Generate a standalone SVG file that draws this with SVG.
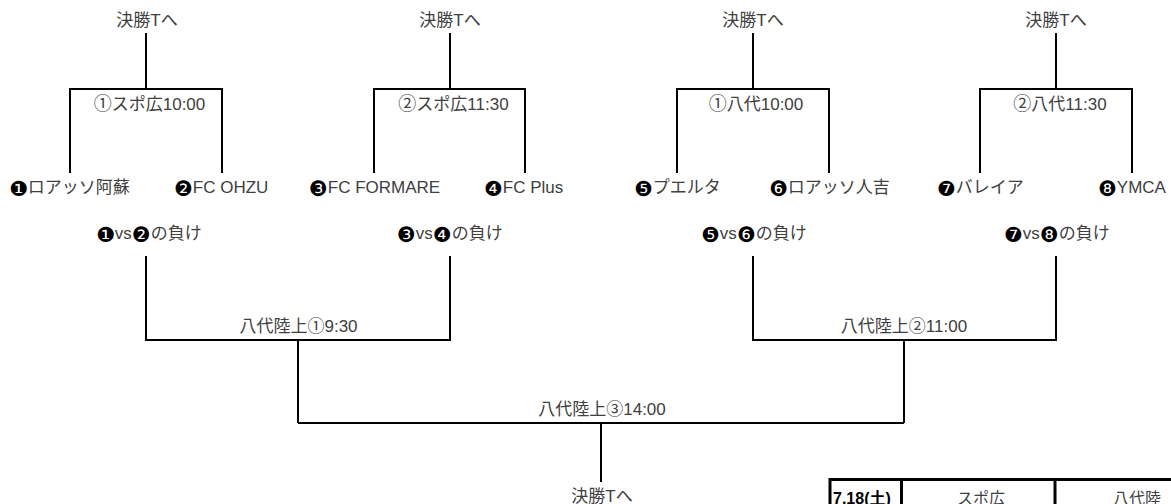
<svg xmlns="http://www.w3.org/2000/svg" width="1171" height="504" viewBox="0 0 1171 504">
<style>
  .t { font-family: "Liberation Sans", "Noto Sans CJK JP", sans-serif; font-size: 17px; fill: #404040; }
  .c { text-anchor: middle; }
  .n { font-family: "Noto Sans CJK JP", sans-serif; font-size: 18px; }
  .d { font-family: "DejaVu Sans", "Noto Sans CJK JP", sans-serif; font-size: 21px; fill: #000; baseline-shift: -3px; }
  .ln { stroke: #000; stroke-width: 2; fill: none; }
  .tb { stroke: #000; stroke-width: 3; fill: none; }
  .hd { font-family: "Liberation Sans", "Noto Sans CJK JP", sans-serif; font-size: 16px; font-weight: bold; fill: #000; }
  .tc { font-family: "Liberation Sans", "Noto Sans CJK JP", sans-serif; font-size: 16px; fill: #404040; }
</style>
<rect width="1171" height="504" fill="#fff"/>
<g id="connectors">
  <path class="ln" d="M146 33V89M70 173V89H222V173"/>
  <path class="ln" d="M450 33V89M374 173V89H525V173"/>
  <path class="ln" d="M753 33V89M677 173V89H829V173"/>
  <path class="ln" d="M1056 33V89M980 173V89H1132V173"/>
  <path class="ln" d="M146 256V340H450V256M298 340V423"/>
  <path class="ln" d="M753 256V340H1056V256M904 340V423"/>
  <path class="ln" d="M298 423H904M601 423V482"/>
</g>
<g id="final-1"><text class="t c" x="147" y="26">決勝Tへ</text></g>
<g id="final-2"><text class="t c" x="450" y="26">決勝Tへ</text></g>
<g id="final-3"><text class="t c" x="753" y="26">決勝Tへ</text></g>
<g id="final-4"><text class="t c" x="1056" y="26">決勝Tへ</text></g>
<g id="match-1"><text class="t c" x="149.5" y="110"><tspan class="n">①</tspan>スポ広10:00</text></g>
<g id="match-2"><text class="t c" x="453.5" y="110"><tspan class="n">②</tspan>スポ広11:30</text></g>
<g id="match-3"><text class="t c" x="756" y="110"><tspan class="n">①</tspan>八代10:00</text></g>
<g id="match-4"><text class="t c" x="1060" y="110"><tspan class="n">②</tspan>八代11:30</text></g>
<g id="team-1"><text class="t" x="9" y="193"><tspan class="d">❶</tspan>ロアッソ阿蘇</text></g>
<g id="team-2"><text class="t" x="174" y="193"><tspan class="d">❷</tspan>FC OHZU</text></g>
<g id="team-3"><text class="t" x="309" y="193"><tspan class="d">❸</tspan>FC FORMARE</text></g>
<g id="team-4"><text class="t" x="484" y="193"><tspan class="d">❹</tspan>FC Plus</text></g>
<g id="team-5"><text class="t" x="634" y="193"><tspan class="d">❺</tspan>プエルタ</text></g>
<g id="team-6"><text class="t" x="769" y="193"><tspan class="d">❻</tspan>ロアッソ人吉</text></g>
<g id="team-7"><text class="t" x="937" y="193"><tspan class="d">❼</tspan>バレイア</text></g>
<g id="team-8"><text class="t" x="1098" y="193"><tspan class="d">❽</tspan>YMCA</text></g>
<g id="loser-12"><text class="t" x="96" y="239"><tspan class="d">❶</tspan>vs<tspan class="d">❷</tspan>の負け</text></g>
<g id="loser-34"><text class="t" x="397" y="239"><tspan class="d">❸</tspan>vs<tspan class="d">❹</tspan>の負け</text></g>
<g id="loser-56"><text class="t" x="701" y="239"><tspan class="d">❺</tspan>vs<tspan class="d">❻</tspan>の負け</text></g>
<g id="loser-78"><text class="t" x="1004" y="239"><tspan class="d">❼</tspan>vs<tspan class="d">❽</tspan>の負け</text></g>
<g id="semi-1"><text class="t c" x="298.5" y="332">八代陸上①9:30</text></g>
<g id="semi-2"><text class="t c" x="904" y="332">八代陸上②11:00</text></g>
<g id="final-match"><text class="t c" x="602" y="415">八代陸上③14:00</text></g>
<g id="final-out"><text class="t c" x="602" y="502">決勝Tへ</text></g>
<g id="schedule-table">
  <path class="tb" d="M830 479.5H1171M830 478V504M901.5 478V504M1055 478V504"/>
  <text class="hd" x="833" y="504">7.18(土)</text>
  <text class="tc c" x="981" y="504">スポ広</text>
  <text class="tc" x="1113" y="504" font-size="17">八代陸</text>
</g>
</svg>
